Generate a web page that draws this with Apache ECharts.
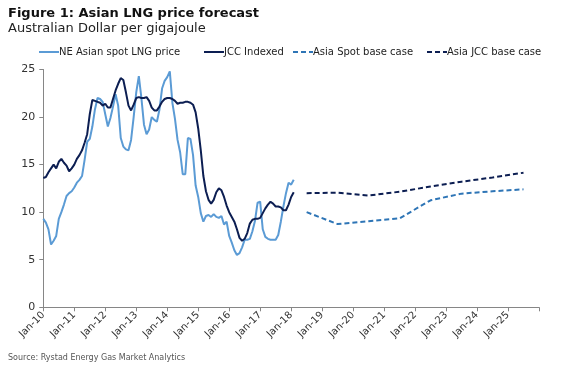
<!DOCTYPE html>
<html>
<head>
<meta charset="utf-8">
<script src="https://cdn.jsdelivr.net/npm/echarts@6/dist/echarts.min.js"></script>
<style>html,body{margin:0;padding:0;background:#fff}#c{width:564px;height:370px}</style>
</head>
<body>
<div id="c"></div>
<script>
// Monthly categories Jan-10 .. Jan-26 (tick labels every 12 months)
const monthNames = ['Jan','Feb','Mar','Apr','May','Jun','Jul','Aug','Sep','Oct','Nov','Dec'];
const categories = [];
for (let y = 10; y <= 26; y++) {
  for (let m = 0; m < 12; m++) {
    categories.push(monthNames[m] + '-' + y);
    if (y === 26) break;
  }
}
const yTicks = [0, 5, 10, 15, 20, 25];

// Historical monthly series, starting Jan-10
const spotHist = [9.3,8.9,8.2,6.6,7.0,7.5,9.3,10.0,10.8,11.7,12.0,12.2,
  12.6,13.1,13.4,13.8,15.5,17.4,17.7,19.0,20.8,22.0,21.9,21.6,
  20.3,19.0,19.9,21.1,22.4,21.2,17.8,16.9,16.6,16.5,17.6,20.0,
  22.6,24.3,22.0,19.2,18.2,18.7,20.0,19.7,19.5,20.8,23.0,23.8,
  24.2,24.8,21.5,19.8,17.6,16.3,14.0,14.0,17.8,17.7,16.0,12.8,
  11.6,9.9,9.0,9.6,9.7,9.5,9.8,9.5,9.4,9.6,8.7,9.0,
  7.5,6.8,6.0,5.5,5.7,6.3,7.1,7.1,7.2,8.0,9.1,11.0,
  11.1,8.2,7.4,7.2,7.1,7.1,7.1,7.6,9.0,10.6,12.0,13.1,
  12.9,13.4];
const jccHist = [13.6,13.7,14.2,14.6,15.0,14.6,15.3,15.6,15.2,14.9,14.3,14.6,
  15.0,15.6,16.0,16.5,17.3,18.2,20.3,21.8,21.7,21.6,21.5,21.2,
  21.4,21.0,21.0,21.9,22.8,23.5,24.1,23.9,22.6,21.2,20.7,21.3,
  22.0,22.1,22.0,22.0,22.1,21.7,21.0,20.7,20.7,21.1,21.6,21.9,
  22.0,22.0,21.9,21.7,21.4,21.5,21.5,21.6,21.6,21.5,21.3,20.5,
  18.8,16.5,13.8,12.2,11.3,10.9,11.3,12.1,12.5,12.3,11.6,10.7,
  10.0,9.5,9.0,8.2,7.3,7.0,7.2,7.8,8.8,9.2,9.3,9.3,
  9.4,9.9,10.4,10.8,11.1,10.9,10.6,10.6,10.5,10.2,10.2,10.8,
  11.6,12.1];

// Forecast (annual points)
const forecastDates = ['Jul-18','Jul-19','Jul-20','Jul-21','Jul-22','Jul-23','Jul-24','Jul-25'];
const spotBase = [10.0, 8.75, 9.05, 9.35, 11.25, 11.95, 12.2, 12.4];
const jccBase  = [12.0, 12.05, 11.75, 12.15, 12.7, 13.2, 13.65, 14.15];

const seriesNames = ['NE Asian spot LNG price','JCC Indexed','Asia Spot base case','Asia JCC base case'];
const colors = ['#5B9BD5', '#0C1E52', '#2E75B6', '#0C1E52'];

const FONT = 'DejaVu Sans';
const chart = echarts.init(document.getElementById('c'), null, {renderer: 'canvas'});

function legendItem(i, left) {
  return {
    data: [seriesNames[i]], left: left, top: 42, itemWidth: 20, itemHeight: 10,
    itemStyle: {opacity: 0},
    textStyle: {fontFamily: FONT, fontSize: 10, color: '#222', padding: [0,0,0,-5]},
    selectedMode: false
  };
}

chart.setOption({
  animation: false,
  textStyle: {fontFamily: FONT},
  title: {
    text: 'Figure 1: Asian LNG price forecast',
    subtext: 'Australian Dollar per gigajoule',
    left: 3, top: 2, itemGap: 2,
    textStyle: {fontFamily: FONT, fontSize: 13, fontWeight: 'bold', color: '#111'},
    subtextStyle: {fontFamily: FONT, fontSize: 13, color: '#222'}
  },
  legend: [legendItem(0, 33), legendItem(1, 198), legendItem(2, 287), legendItem(3, 421)],
  grid: {left: 43.3, right: 25, top: 69.5, bottom: 62.7, containLabel: false},
  xAxis: {
    type: 'category', data: categories, boundaryGap: false,
    axisLine: {lineStyle: {color: '#868686', width: 1}},
    axisTick: {interval: 11, length: 4, lineStyle: {color: '#868686'}},
    axisLabel: {interval: 11, rotate: 45, fontFamily: FONT, fontSize: 10, color: '#333', margin: 6,
      formatter: v => (v === categories[categories.length - 1] ? '' : v)},
    splitLine: {show: false}
  },
  yAxis: {
    type: 'value', min: yTicks[0], max: yTicks[yTicks.length - 1], interval: yTicks[1] - yTicks[0],
    axisLine: {show: true, lineStyle: {color: '#868686', width: 1}},
    axisTick: {show: true, length: 4, lineStyle: {color: '#868686'}},
    axisLabel: {fontFamily: FONT, fontSize: 11, color: '#333', margin: 8},
    splitLine: {show: false}
  },
  series: [
    {name: seriesNames[0], type: 'line', data: spotHist, symbol: 'none', smooth: false,
      lineStyle: {color: colors[0], width: 2}, itemStyle: {color: colors[0]}},
    {name: seriesNames[1], type: 'line', data: jccHist, symbol: 'none',
      lineStyle: {color: colors[1], width: 2}, itemStyle: {color: colors[1]}},
    {name: seriesNames[2], type: 'line', data: forecastDates.map((d, i) => [d, spotBase[i]]), symbol: 'none',
      lineStyle: {color: colors[2], width: 2, type: [5, 3]}, itemStyle: {color: colors[2]}},
    {name: seriesNames[3], type: 'line', data: forecastDates.map((d, i) => [d, jccBase[i]]), symbol: 'none',
      lineStyle: {color: colors[3], width: 2, type: [5, 3]}, itemStyle: {color: colors[3]}}
  ],
  graphic: [{
    type: 'text', left: 8, top: 354,
    style: {text: 'Source: Rystad Energy Gas Market Analytics', font: '8px "DejaVu Sans"', fill: '#555'}
  }]
});
</script>
</body>
</html>
